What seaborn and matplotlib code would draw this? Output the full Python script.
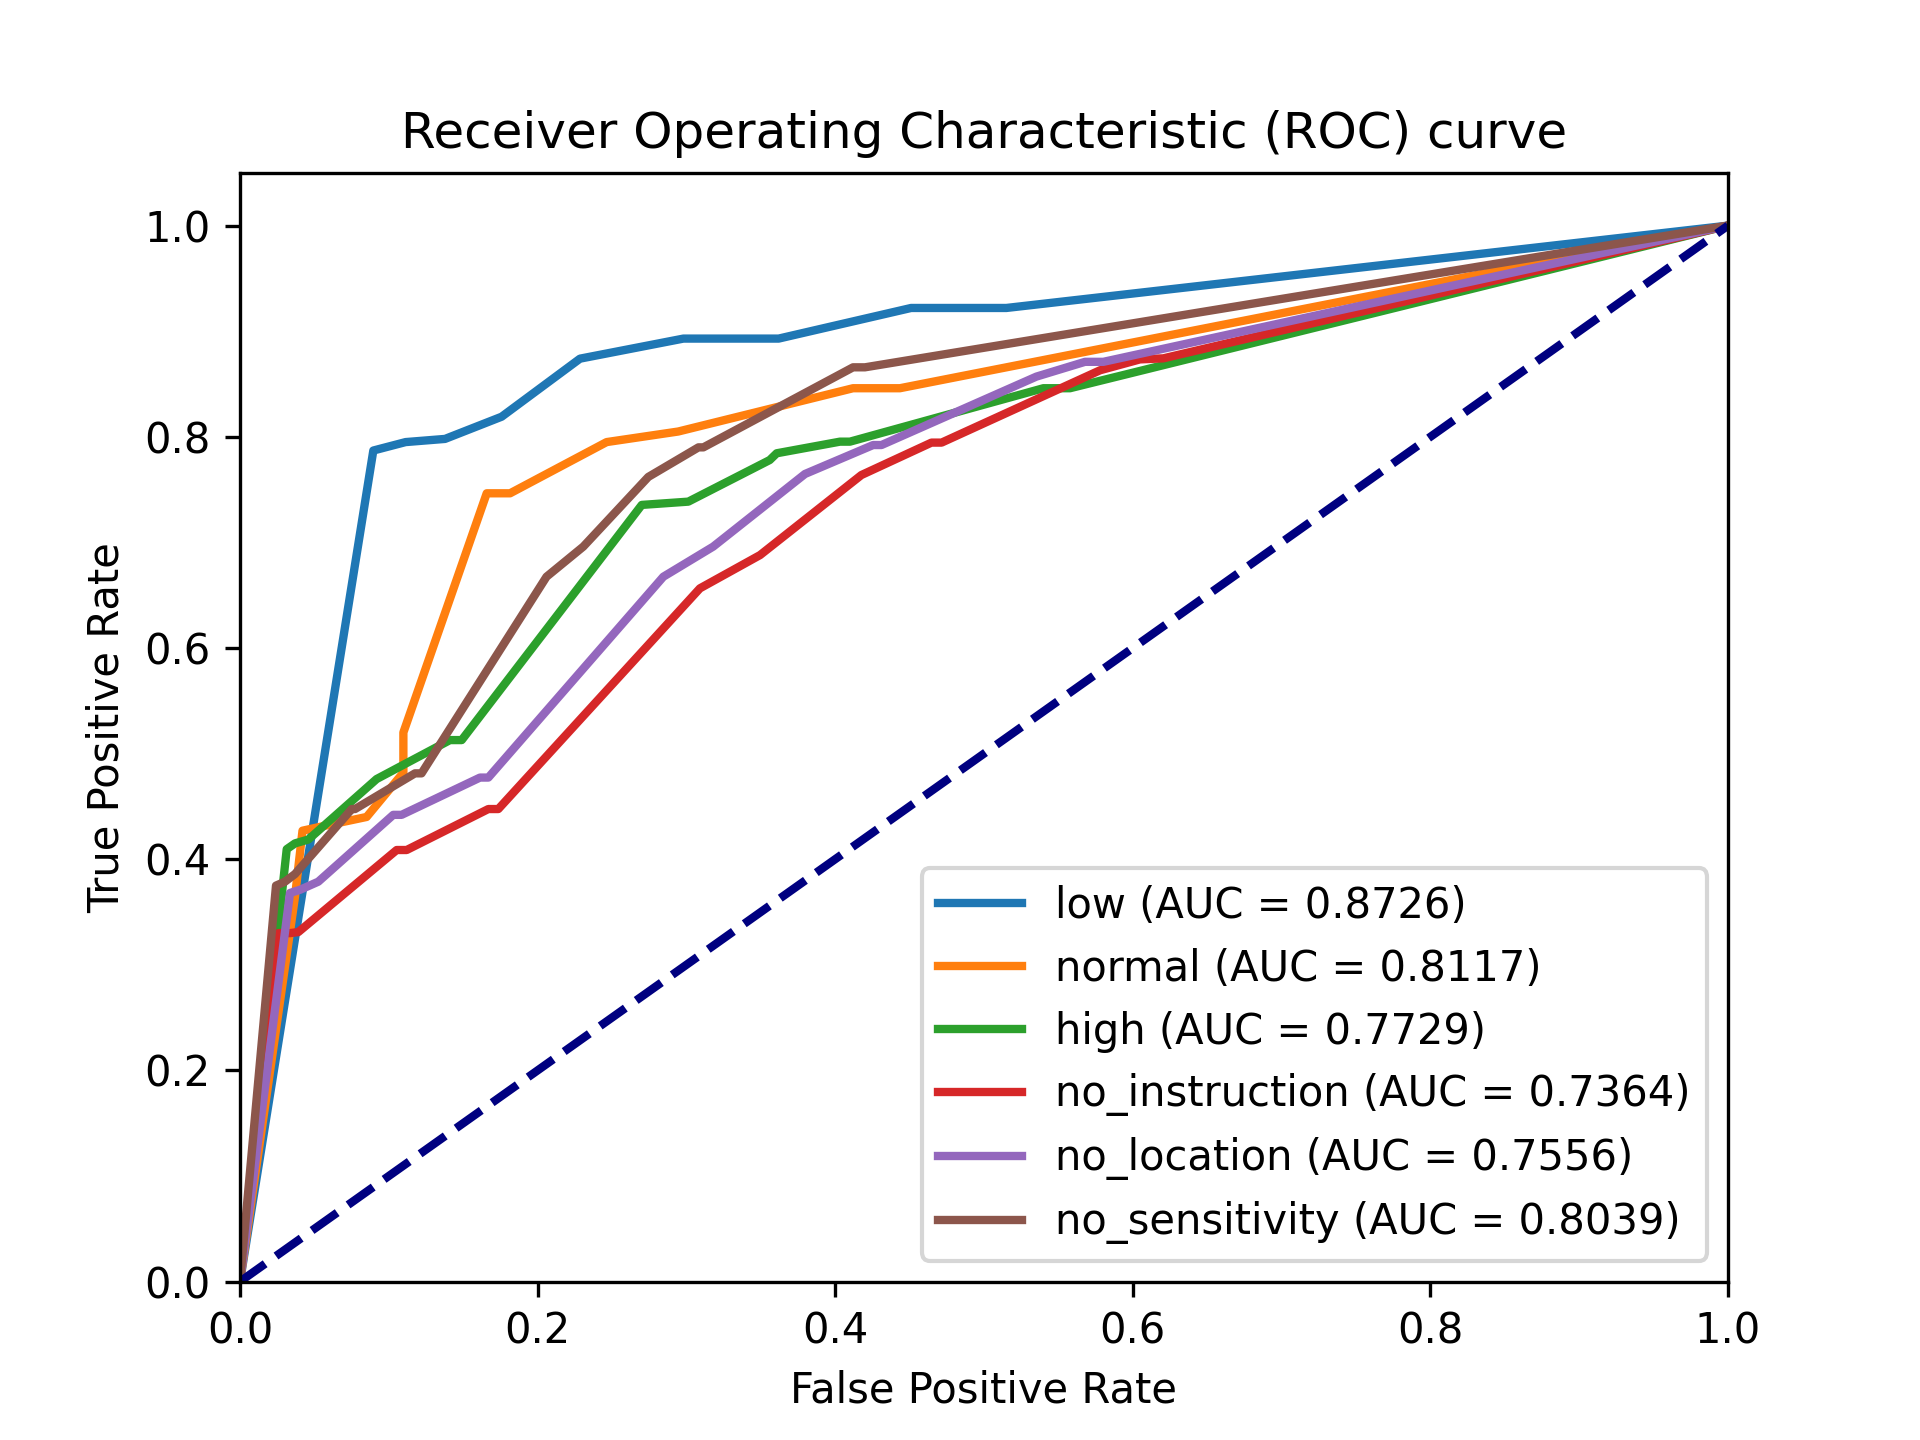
import matplotlib
matplotlib.use("Agg")
import matplotlib.pyplot as plt
import seaborn as sns
import pandas as pd

classes = ["low", "normal", "high", "no_instruction", "no_location", "no_sensitivity"]
auc_values = [0.8726, 0.8117, 0.7729, 0.7364, 0.7556, 0.8039]

low_fpr = [0, 0.0896, 0.1113, 0.1378, 0.1758, 0.2285, 0.298, 0.362, 0.451, 0.515, 1.0]
low_tpr = [0, 0.787, 0.795, 0.798, 0.819, 0.874, 0.893, 0.893, 0.922, 0.922, 1.0]

normal_fpr = [0, 0.037, 0.0420, 0.0582, 0.0851, 0.1098, 0.1098, 0.1658, 0.1815, 0.2464, 0.2945, 0.412, 0.4435, 1.0]
normal_tpr = [0, 0.365, 0.4270, 0.432, 0.440, 0.482, 0.520, 0.7465, 0.7465, 0.795, 0.805, 0.846, 0.846, 1.0]

high_fpr = [0, 0.0314, 0.037, 0.0459, 0.0918, 0.1411, 0.149, 0.270, 0.3013, 0.356, 0.3607, 0.4032, 0.4099, 0.5399, 0.5578, 1.0]
high_tpr = [0, 0.4095, 0.415, 0.4186, 0.4759, 0.5128, 0.5128, 0.7355, 0.7386, 0.778, 0.7844, 0.7954, 0.7954, 0.846, 0.846, 1.0]

noinst_fpr = [0, 0.0258, 0.0336, 0.0392, 0.1053, 0.112, 0.1669, 0.1736, 0.3091, 0.3495, 0.4176, 0.4647, 0.4715, 0.578, 0.6048, 0.6205, 1.0]
noinst_tpr = [0, 0.330, 0.330, 0.331, 0.4087, 0.4087, 0.4475, 0.4475, 0.6565, 0.688, 0.7638, 0.7945, 0.7945, 0.863, 0.8733, 0.8743, 1.0]

noloc_fpr = [0, 0.0336, 0.0403, 0.0526, 0.103, 0.1086, 0.1613, 0.1669, 0.2845, 0.318, 0.3797, 0.4255, 0.4311, 0.5352, 0.5679, 0.5802, 1.0]
noloc_tpr = [0, 0.368, 0.371, 0.3787, 0.442, 0.442, 0.4773, 0.4773, 0.6675, 0.696, 0.7648, 0.7922, 0.7922, 0.857, 0.871, 0.871, 1.0]

nosens_fpr = [0, 0.0242, 0.0302, 0.037, 0.0751, 0.0773, 0.1176, 0.122, 0.206, 0.2307, 0.2744, 0.3081, 0.3114, 0.412, 0.42, 1.0]
nosens_tpr = [0, 0.375, 0.3787, 0.386, 0.4475, 0.4475, 0.4813, 0.4813, 0.6675, 0.696, 0.762, 0.790, 0.790, 0.8658, 0.8658, 1.0]

fprs = [low_fpr, normal_fpr, high_fpr, noinst_fpr, noloc_fpr, nosens_fpr]
tprs = [low_tpr, normal_tpr, high_tpr, noinst_tpr, noloc_tpr, nosens_tpr]

colors = sns.color_palette("tab10", 6)

fig, ax = plt.subplots(figsize=(6.4, 4.8), dpi=300)
for name, auc, fpr, tpr, col in zip(classes, auc_values, fprs, tprs, colors):
    df = pd.DataFrame({"fpr": fpr, "tpr": tpr})
    sns.lineplot(data=df, x="fpr", y="tpr", sort=False, estimator=None,
                 color=col, lw=2, label=f"{name} (AUC = {auc:.4f})", ax=ax)

ax.plot([0, 1], [0, 1], color="navy", lw=2, linestyle="--")
ax.set_xlim(0.0, 1.0)
ax.set_ylim(0.0, 1.05)
ax.set_xlabel("False Positive Rate")
ax.set_ylabel("True Positive Rate")
ax.set_title("Receiver Operating Characteristic (ROC) curve")
ax.legend(loc="lower right")
fig.savefig("out.png", dpi=300)
